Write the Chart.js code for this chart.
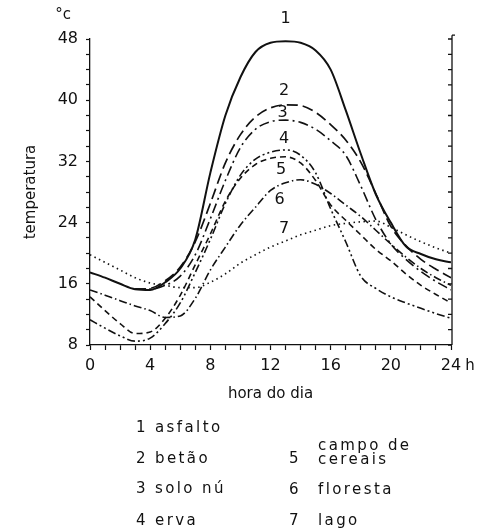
<!DOCTYPE html>
<html>
<head>
<meta charset="utf-8">
<script src="https://cdn.jsdelivr.net/npm/chart.js@4/dist/chart.umd.min.js"></script>
<style>
  body { margin: 0; background: #fff; }
  #wrap { position: relative; width: 479px; height: 531px; }
  .lg { position: absolute; font-family: "DejaVu Sans", sans-serif; font-size: 15px; letter-spacing: 2.4px; color: #111; line-height: 15px; white-space: nowrap; }
</style>
</head>
<body>
<div id="wrap">
  <canvas id="c" width="479" height="531"></canvas>
  <div class="lg" style="left:136px;top:420px">1</div><div class="lg" style="left:155px;top:420px">asfalto</div>
  <div class="lg" style="left:136px;top:451px">2</div><div class="lg" style="left:155px;top:451px">betão</div>
  <div class="lg" style="left:136px;top:481px">3</div><div class="lg" style="left:155px;top:481px">solo nú</div>
  <div class="lg" style="left:136px;top:513px">4</div><div class="lg" style="left:155px;top:513px">erva</div>
  <div class="lg" style="left:289px;top:451px">5</div>
  <div class="lg" style="left:318px;top:438px;line-height:14px">campo de<br>cereais</div>
  <div class="lg" style="left:289px;top:482px">6</div><div class="lg" style="left:318px;top:482px">floresta</div>
  <div class="lg" style="left:289px;top:513px">7</div><div class="lg" style="left:318px;top:513px">lago</div>
</div>
<script>
const hours = [0, 1, 2, 3, 4, 5, 6, 7, 8, 9, 10, 11, 12, 13, 14, 15, 16, 17, 18, 19, 20, 21, 22, 23, 24];
const asfalto = [17.5, 16.8, 16.0, 15.3, 15.2, 16.2, 18.0, 21.8, 30.5, 38.0, 43.0, 46.3, 47.5, 47.7, 47.5, 46.5, 44.0, 38.7, 33.0, 27.7, 24.0, 20.9, 19.9, 19.2, 18.8];
const betao = [null, null, null, 15.3, 15.4, 16.4, 18.2, 21.5, 26.5, 31.8, 35.5, 37.8, 39.0, 39.4, 39.3, 38.4, 36.8, 34.8, 31.9, 27.8, 23.5, 21.0, 19.2, 17.9, 16.8];
const soloNu = [null, null, null, 15.3, 15.3, 15.8, 17.0, 19.8, 24.5, 29.5, 33.8, 36.2, 37.2, 37.4, 37.1, 36.2, 34.7, 32.8, 28.8, 24.4, 21.2, 19.2, 17.6, 16.3, 15.2];
const erva = [11.3, 10.2, 9.2, 8.5, 8.9, 10.8, 13.5, 17.5, 21.8, 26.5, 30.2, 32.3, 33.2, 33.5, 32.8, 30.5, 25.8, 21.5, 17.0, 15.4, 14.3, 13.5, 12.8, 12.1, 11.5];
const cereais = [14.3, 12.5, 10.8, 9.5, 9.7, 11.5, 14.5, 18.5, 22.5, 26.8, 29.8, 31.6, 32.4, 32.6, 31.8, 29.5, 26.3, 24.3, 22.4, 20.5, 19.0, 17.3, 15.8, 14.6, 13.5];
const floresta = [15.2, 14.5, 13.8, 13.1, 12.5, 11.6, 11.8, 14.1, 17.8, 20.8, 23.7, 26.0, 28.2, 29.2, 29.6, 29.0, 27.8, 26.3, 24.8, 23.0, 21.2, 19.5, 18.0, 16.8, 15.8];
const lago = [19.8, 18.8, 17.8, 16.8, 16.1, 15.8, 15.5, 15.5, 16.2, 17.3, 18.7, 19.8, 20.8, 21.6, 22.4, 23.0, 23.6, 23.9, 24.1, 24.2, 23.4, 22.4, 21.5, 20.7, 20.0];

const yTickLabels = [8, 16, 24, 32, 40, 48];
const xTickLabels = [0, 4, 8, 12, 16, 20, 24];
// where the curve numbers sit (hour, temperature)
const curveNames = ["1", "2", "3", "4", "5", "6", "7"];
const namePos = [[13, 50.6], [12.9, 41.2], [12.8, 38.3], [12.9, 35.0], [12.7, 30.9], [12.6, 27.0], [12.9, 23.2]];

const ink = "#111";
function pts(arr) { return hours.map((h, i) => ({ x: h, y: arr[i] })); }
function ds(arr, dash, w) {
  return {
    data: pts(arr), borderColor: ink, borderWidth: w, borderDash: dash,
    pointRadius: 0, fill: false, cubicInterpolationMode: "monotone", spanGaps: false
  };
}

const extras = {
  id: "extras",
  afterDraw(chart) {
    const ctx = chart.ctx, xs = chart.scales.x, ys = chart.scales.y;
    ctx.save();
    ctx.strokeStyle = ink; ctx.fillStyle = ink; ctx.lineWidth = 1.3;
    // right axis, ticks pointing in
    const rx = xs.getPixelForValue(24) + 1;
    ctx.beginPath();
    ctx.moveTo(rx, ys.getPixelForValue(48.5));
    ctx.lineTo(rx, ys.getPixelForValue(8));
    for (let v = 8; v <= 48; v += 2) {
      const py = ys.getPixelForValue(v);
      ctx.moveTo(rx, py); ctx.lineTo(rx - 4, py);
    }
    ctx.moveTo(rx, ys.getPixelForValue(48.5)); ctx.lineTo(rx + 3, ys.getPixelForValue(48.5));
    ctx.stroke();
    ctx.font = "16px 'DejaVu Sans'";
    ctx.textAlign = "center"; ctx.textBaseline = "middle";
    curveNames.forEach((n, i) => {
      ctx.fillText(n, xs.getPixelForValue(namePos[i][0]), ys.getPixelForValue(namePos[i][1]));
    });
    ctx.font = "15px 'DejaVu Sans'";
    ctx.fillText("°c", 63, 15);
    ctx.fillText("h", 470, 366);
    ctx.restore();
  }
};

new Chart(document.getElementById("c"), {
  type: "line",
  data: {
    datasets: [
      ds(asfalto, [], 2),
      ds(betao, [11, 5], 1.7),
      ds(soloNu, [10, 4, 2, 4], 1.6),
      ds(erva, [8, 3, 2, 3, 2, 3], 1.6),
      ds(cereais, [6, 4], 1.6),
      ds(floresta, [8, 3, 1.5, 3], 1.6),
      ds(lago, [1.5, 3.5], 1.6)
    ]
  },
  options: {
    responsive: false,
    animation: false,
    layout: { padding: { left: 0, right: 28, top: 39, bottom: 126 } },
    plugins: { legend: { display: false }, tooltip: { enabled: false } },
    scales: {
      x: {
        type: "linear", min: 0, max: 24,
        afterFit(s) { s.height = 60; },
        border: { color: ink, width: 1.3 },
        grid: { drawOnChartArea: false, tickLength: 5, color: ink, tickWidth: 1.2 },
        ticks: {
          stepSize: 1, autoSkip: false, maxRotation: 0, padding: 6, color: ink,
          font: { family: "DejaVu Sans", size: 16 },
          callback: v => xTickLabels.includes(v) ? String(v) : ""
        },
        title: { display: true, text: "hora do dia", color: ink, padding: { top: 0, bottom: 2 },
          font: { family: "DejaVu Sans", size: 15 } }
      },
      y: {
        min: 8, max: 48,
        afterFit(s) { s.width = 90; },
        border: { color: ink, width: 1.3 },
        grid: { drawOnChartArea: false, tickLength: 4, color: ink, tickWidth: 1.2 },
        ticks: {
          stepSize: 2, autoSkip: false, padding: 8, color: ink,
          font: { family: "DejaVu Sans", size: 16 },
          callback: v => yTickLabels.includes(v) ? String(v) : ""
        },
        title: { display: true, text: "temperatura", color: ink, padding: { top: 22, bottom: 0 },
          font: { family: "DejaVu Sans", size: 15 } }
      }
    }
  },
  plugins: [extras]
});
</script>
</body>
</html>
